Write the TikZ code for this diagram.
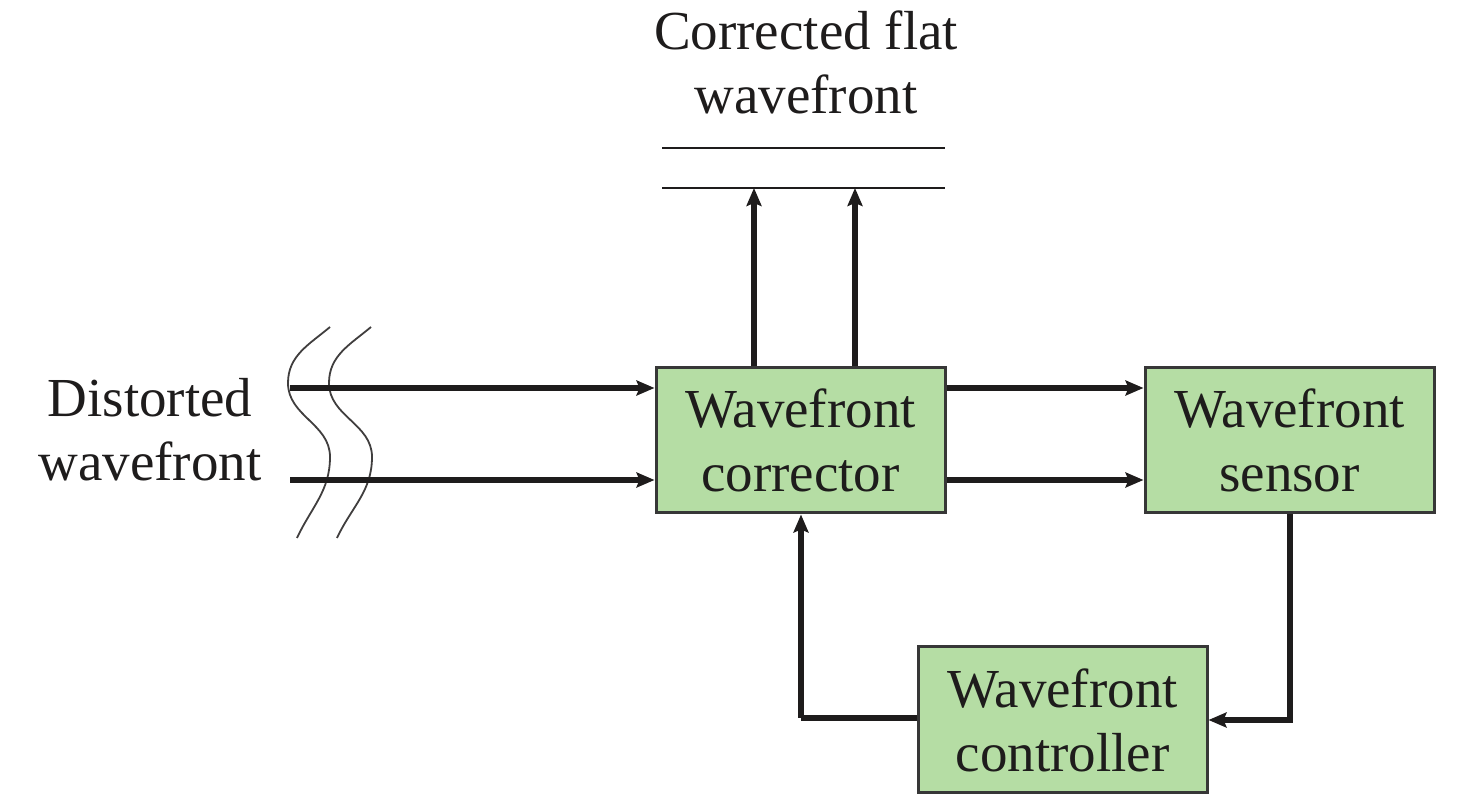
\documentclass[tikz,border=0pt]{standalone}
\usepackage{fontspec}
\setmainfont{Liberation Serif}
\usetikzlibrary{arrows.meta}
\definecolor{boxfill}{RGB}{181,221,164}
\definecolor{boxline}{RGB}{55,55,55}
\definecolor{ink}{RGB}{30,28,28}
\begin{document}
\begin{tikzpicture}[x=1pt,y=1pt,
  blk/.style={draw=boxline,line width=3pt,fill=boxfill,minimum width=289pt,minimum height=145pt,
    align=center,inner sep=0pt,text=ink,font=\rmfamily\fontsize{55}{64}\selectfont},
  lbl/.style={align=center,inner sep=0pt,text=ink,font=\rmfamily\fontsize{55}{64}\selectfont},
  arr/.style={line width=6pt,draw=ink,-{Stealth[length=18pt,width=15pt,inset=3pt]}},
  ln/.style={line width=6pt,draw=ink},
  wave/.style={line width=1.8pt,draw=ink!85},
  flat/.style={line width=2.4pt,draw=ink}]
\useasboundingbox (0,0) rectangle (1476,798);
\node[blk] (corr) at (800.5,357.5) {Wavefront\\corrector};
\node[blk] (sens) at (1289.5,357.5) {Wavefront\\sensor};
\node[blk,minimum height=146pt] (ctrl) at (1062.5,78) {Wavefront\\controller};
\node[lbl] (top) at (806,736) {Corrected flat\\wavefront};
\node[lbl] (dist) at (150,368) {Distorted\\wavefront};
% wavy distorted fronts
\draw[wave] (330,471) to[out=220,in=90] (288,415) to[out=-90,in=90] (330,341) to[out=-90,in=65] (297,260);
\draw[wave] (371,471) to[out=220,in=90] (329,415) to[out=-90,in=90] (372,341) to[out=-90,in=65] (337,260);
% flat fronts
\coordinate (f1a) at (662,650); \coordinate (f1b) at (945,650);
\coordinate (f2a) at (662,610); \coordinate (f2b) at (945,610);
\draw[flat] (f1a) -- (f1b);
\draw[flat] (f2a) -- (f2b);
% input arrows
\coordinate (in1) at (290,410); \coordinate (in2) at (290,318);
\draw[arr] (in1) -- (in1 -| corr.west);
\draw[arr] (in2) -- (in2 -| corr.west);
% corrector to sensor
\draw[arr] (in1 -| corr.east) -- (in1 -| sens.west);
\draw[arr] (in2 -| corr.east) -- (in2 -| sens.west);
% up arrows
\coordinate (u1) at (754,610); \coordinate (u2) at (855,610);
\draw[arr] (u1 |- corr.north) -- (u1);
\draw[arr] (u2 |- corr.north) -- (u2);
% feedback
\draw[arr] (sens.south) |- (ctrl.east);
\coordinate (fb) at (801,80);
\draw[ln] (ctrl.west |- fb) -- (fb);
\draw[arr] (fb) -- (fb |- corr.south);
\end{tikzpicture}
\end{document}
